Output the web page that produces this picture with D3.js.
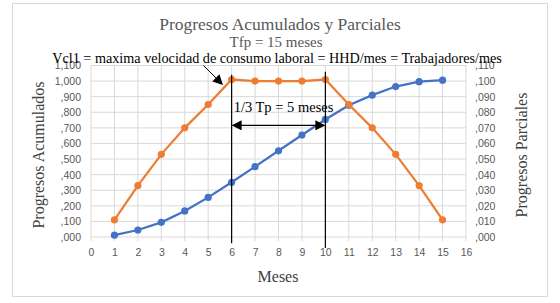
<!DOCTYPE html>
<html lang="es">
<head>
<meta charset="UTF-8">
<title>Progresos Acumulados y Parciales</title>
<style>
  body { margin: 0; background: #fff; }
  svg text { font-family: "Liberation Serif", "Times New Roman", serif; }
  .tick text { font-family: "Liberation Sans", Arial, sans-serif; font-size: 10.5px; fill: #595959; }
</style>
</head>
<body>
<svg id="chart" width="560" height="303"></svg>
<script src="https://d3js.org/d3.v7.min.js"></script>
<script>
// data
const meses = [1, 2, 3, 4, 5, 6, 7, 8, 9, 10, 11, 12, 13, 14, 15];
const acumulados = [0.012, 0.045, 0.094, 0.167, 0.254, 0.351, 0.451, 0.553, 0.654, 0.754, 0.845, 0.910, 0.965, 0.996, 1.006];
const parciales = [0.011, 0.033, 0.053, 0.070, 0.085, 0.101, 0.100, 0.100, 0.100, 0.101, 0.085, 0.070, 0.053, 0.033, 0.011];
const xTicks = d3.range(0, 17);
const leftTicks = [0, 0.1, 0.2, 0.3, 0.4, 0.5, 0.6, 0.7, 0.8, 0.9, 1.0, 1.1];
const leftLabels = [",000", ",100", ",200", ",300", ",400", ",500", ",600", ",700", ",800", ",900", "1,000", "1,100"];
const rightTicks = [0, 0.01, 0.02, 0.03, 0.04, 0.05, 0.06, 0.07, 0.08, 0.09, 0.10, 0.11];
const rightLabels = [",000", ",010", ",020", ",030", ",040", ",050", ",060", ",070", ",080", ",090", ",100", ",110"];

const svg = d3.select('#chart');

// chart frame
svg.append('rect')
  .attr('x', 12.5).attr('y', 3.5)
  .attr('width', 535).attr('height', 293)
  .attr('fill', '#fff')
  .attr('stroke', '#d9d9d9');

const x = d3.scaleLinear().domain([0, 16]).range([91, 466]);
const yL = d3.scaleLinear().domain([0, 1.1]).range([237, 65.5]);
const yR = d3.scaleLinear().domain([0, 0.11]).range([237, 65.5]);

// grid
const grid = svg.append('g');
grid.selectAll('.hg').data(leftTicks).join('line')
  .attr('x1', x(0)).attr('x2', x(16))
  .attr('y1', d => yL(d)).attr('y2', d => yL(d))
  .attr('stroke', '#d9d9d9').attr('stroke-width', 1);
grid.selectAll('.vg').data(xTicks).join('line')
  .attr('x1', d => x(d)).attr('x2', d => x(d))
  .attr('y1', yL(1.1)).attr('y2', yL(0) + 4)
  .attr('stroke', '#d9d9d9').attr('stroke-width', 1);

// axes
const xAxis = svg.append('g')
  .attr('transform', `translate(0,${yL(0)})`)
  .call(d3.axisBottom(x).tickValues(xTicks).tickSize(0).tickPadding(12));
xAxis.select('.domain').remove();

const leftAxis = svg.append('g')
  .attr('transform', `translate(${x(0)},0)`)
  .call(d3.axisLeft(yL).tickValues(leftTicks).tickSize(0).tickPadding(10)
    .tickFormat((d, i) => leftLabels[i]));
leftAxis.select('.domain').remove();

const rightAxis = svg.append('g')
  .attr('transform', `translate(${x(16)},0)`)
  .call(d3.axisRight(yR).tickValues(rightTicks).tickSize(0).tickPadding(9)
    .tickFormat((d, i) => rightLabels[i]));
rightAxis.select('.domain').remove();

// series
const lineL = d3.line().x((d, i) => x(meses[i])).y(d => yL(d));
const lineR = d3.line().x((d, i) => x(meses[i])).y(d => yR(d));

svg.append('path').datum(acumulados)
  .attr('d', lineL).attr('fill', 'none')
  .attr('stroke', '#4472c4').attr('stroke-width', 2.25);
svg.selectAll('.ptA').data(acumulados).join('circle')
  .attr('cx', (d, i) => x(meses[i])).attr('cy', d => yL(d))
  .attr('r', 3.6).attr('fill', '#4472c4');

svg.append('path').datum(parciales)
  .attr('d', lineR).attr('fill', 'none')
  .attr('stroke', '#ed7d31').attr('stroke-width', 2.25);
svg.selectAll('.ptP').data(parciales).join('circle')
  .attr('cx', (d, i) => x(meses[i])).attr('cy', d => yR(d))
  .attr('r', 3.6).attr('fill', '#ed7d31');

// annotations
const defs = svg.append('defs');
defs.append('marker')
  .attr('id', 'head').attr('viewBox', '0 0 10 10')
  .attr('refX', 9).attr('refY', 5)
  .attr('markerWidth', 10).attr('markerHeight', 10)
  .attr('markerUnits', 'userSpaceOnUse')
  .attr('orient', 'auto-start-reverse')
  .append('path').attr('d', 'M0,0 L10,5 L0,10 Z').attr('fill', '#000');

svg.append('line')
  .attr('x1', x(6)).attr('x2', x(6))
  .attr('y1', yL(1.04)).attr('y2', yL(-0.04))
  .attr('stroke', '#000').attr('stroke-width', 1.2);
svg.append('line')
  .attr('x1', x(10)).attr('x2', x(10))
  .attr('y1', yL(1.06)).attr('y2', yL(-0.07))
  .attr('stroke', '#000').attr('stroke-width', 1.2);

svg.append('line')
  .attr('x1', x(6) + 1).attr('x2', x(10) - 1)
  .attr('y1', yL(0.716)).attr('y2', yL(0.716))
  .attr('stroke', '#000').attr('stroke-width', 1.2)
  .attr('marker-start', 'url(#head)').attr('marker-end', 'url(#head)');

svg.append('line')
  .attr('x1', x(4.8)).attr('x2', x(5.6))
  .attr('y1', yL(1.1)).attr('y2', yL(0.98))
  .attr('stroke', '#000').attr('stroke-width', 1)
  .attr('marker-end', 'url(#head)');

svg.append('text')
  .attr('x', x(6) + 2).attr('y', yL(0.8))
  .attr('font-size', 14.5).attr('fill', '#000')
  .text('1/3 Tp = 5 meses');

// titles
svg.append('text')
  .attr('x', 280).attr('y', 30)
  .attr('text-anchor', 'middle').attr('font-size', 17.5).attr('fill', '#595959')
  .text('Progresos Acumulados  y  Parciales');
svg.append('text')
  .attr('x', 276).attr('y', 47)
  .attr('text-anchor', 'middle').attr('font-size', 15).attr('fill', '#595959')
  .text('Tfp = 15 meses');
svg.append('text')
  .attr('x', 277).attr('y', 63)
  .attr('text-anchor', 'middle').attr('font-size', 14.2).attr('fill', '#000')
  .text('Vcl1 = maxima velocidad de consumo laboral = HHD/mes = Trabajadores/mes');

svg.append('text')
  .attr('transform', 'translate(44,155) rotate(-90)')
  .attr('text-anchor', 'middle').attr('font-size', 16).attr('fill', '#404040')
  .text('Progresos  Acumulados');
svg.append('text')
  .attr('transform', 'translate(527,155) rotate(-90)')
  .attr('text-anchor', 'middle').attr('font-size', 16).attr('fill', '#404040')
  .text('Progresos  Parciales');
svg.append('text')
  .attr('x', 278).attr('y', 282)
  .attr('text-anchor', 'middle').attr('font-size', 16).attr('fill', '#404040')
  .text('Meses');
</script>
</body>
</html>
